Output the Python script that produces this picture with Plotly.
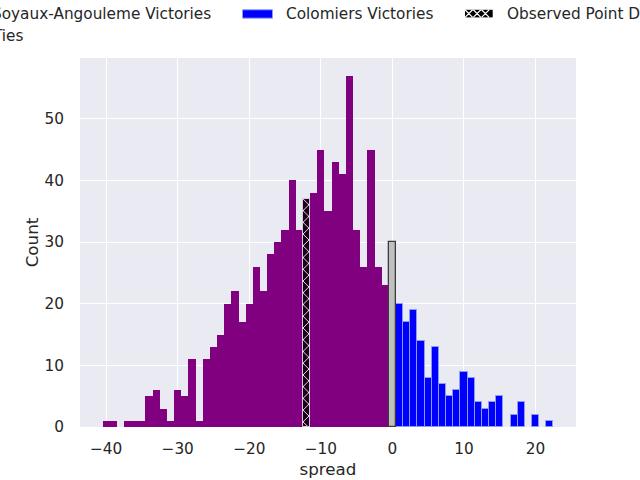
import plotly.graph_objects as go

# ---- data ----
soyaux_spread = [-40, -39, -37, -36, -35, -34, -33, -32, -31, -30, -29, -28, -27, -26,
                 -25, -24, -23, -22, -21, -20, -19, -18, -17, -16, -15, -14, -13,
                 -11, -10, -9, -8, -7, -6, -5, -4, -3, -2, -1]
soyaux_count = [1, 1, 1, 1, 1, 5, 6, 3, 1, 6, 5, 11, 1, 11,
                13, 15, 20, 22, 17, 20, 26, 22, 28, 30, 32, 40, 32,
                38, 45, 35, 43, 41, 57, 32, 26, 45, 26, 23]

colomiers_spread = [1, 2, 3, 4, 5, 6, 7, 8, 9, 10, 11, 12, 13, 14, 15, 17, 18, 20, 22]
colomiers_count = [20, 17, 19, 14, 8, 13, 7, 5, 6, 9, 8, 4, 3, 4, 5, 2, 4, 2, 1]

tie_spread = [0]
tie_count = [30]

observed_spread = [-12]
observed_count = [37]

x_ticks = [-40, -30, -20, -10, 0, 10, 20]
x_tick_labels = ["\u221240", "\u221230", "\u221220", "\u221210", "0", "10", "20"]
y_ticks = [0, 10, 20, 30, 40, 50]

legend_labels = ["Soyaux-Angouleme Victories", "Colomiers Victories",
                 "Observed Point Differential", "Ties"]

# ---- layout geometry (pixels) ----
WIDTH, HEIGHT = 640, 480
L, R, T, B = 80, 576, 57.6, 427.2
PW, PH = R - L, B - T

def px_x(p):
    return (p - L) / PW

def px_y(p):
    return (B - p) / PH

TEXT = "#262626"
FONT = "DejaVu Sans"

fig = go.Figure()

fig.add_trace(go.Bar(
    x=soyaux_spread, y=soyaux_count, width=1,
    marker=dict(color="#800080", line=dict(color="#800080", width=0)),
    name=legend_labels[0], showlegend=False))

fig.add_trace(go.Bar(
    x=colomiers_spread, y=colomiers_count, width=1,
    marker=dict(color="#0000ff", line=dict(color="#8c9cf2", width=1)),
    name=legend_labels[1], showlegend=False))

fig.add_trace(go.Bar(
    x=observed_spread, y=observed_count, width=1,
    marker=dict(color="#1c001c", line=dict(color="#d8c8e0", width=1),
                pattern=dict(shape="x", fgcolor="white", bgcolor="#1c001c",
                             size=8.3, solidity=0.2, fillmode="replace")),
    name=legend_labels[2], showlegend=False))

fig.add_trace(go.Bar(
    x=tie_spread, y=tie_count, width=1,
    marker=dict(color="#c0c0c0", line=dict(color="#3c3c3c", width=1.3)),
    name=legend_labels[3], showlegend=False))

# ---- manual legend (placed above the axes, partly off the page as in the reference) ----
shapes = []
annotations = []

def patch(x0, x1, y0, y1, fill, line_color, line_width=1):
    shapes.append(dict(type="rect", xref="paper", yref="paper",
                       x0=px_x(x0), x1=px_x(x1), y0=px_y(y1), y1=px_y(y0),
                       fillcolor=fill, line=dict(color=line_color, width=line_width),
                       layer="above"))

def label(text, xpx, ypx):
    annotations.append(dict(text=text, xref="paper", yref="paper",
                            x=px_x(xpx), y=px_y(ypx), xanchor="left", yanchor="middle",
                            showarrow=False, font=dict(family=FONT, size=15.3, color=TEXT)))

row1, row2 = 13.5, 36.0
# column 1 (handles are off the page)
patch(-50.7, -20.7, row1 - 4.2, row1 + 4.2, "#800080", "#800080", 0)
label(legend_labels[0], -10.5, row1)
patch(-50.7, -20.7, row2 - 4.2, row2 + 4.2, "#c0c0c0", "#3c3c3c")
label(legend_labels[3], -10.5, row2)
# column 2
patch(242.5, 272.5, 9.3, 17.7, "#0000ff", "#8c9cf2")
label(legend_labels[1], 283.5, row1)
# column 3 (hatched)
hx0, hx1, hy0, hy1 = 465.0, 492.7, 9.3, 16.9
patch(hx0, hx1, hy0, hy1, "#000000", "#000000", 0)
path = ""
step = 8.3
cx = hx0 + 3.8
while cx < hx1:
    a0, a1 = max(hx0, cx - 3.8), min(hx1, cx + 3.8)
    path += f"M{px_x(a0)},{px_y(hy0 + (a0 - (cx - 3.8)))} L{px_x(a1)},{px_y(hy0 + (a1 - (cx - 3.8)))} "
    path += f"M{px_x(a0)},{px_y(hy1 - (a0 - (cx - 3.8)))} L{px_x(a1)},{px_y(hy1 - (a1 - (cx - 3.8)))} "
    cx += step
shapes.append(dict(type="path", xref="paper", yref="paper", path=path,
                   line=dict(color="white", width=1.2), layer="above"))
label(legend_labels[2], 504.5, row1)

fig.update_layout(
    width=WIDTH, height=HEIGHT,
    margin=dict(l=L, r=WIDTH - R, t=T, b=HEIGHT - B, pad=0, autoexpand=False),
    paper_bgcolor="white", plot_bgcolor="#eaeaf2",
    barmode="overlay", bargap=0,
    font=dict(family=FONT, size=15.3, color=TEXT),
    shapes=shapes, annotations=annotations,
    showlegend=False,
)

fig.update_xaxes(
    range=[-43.65, 25.65], tickvals=x_ticks, ticktext=x_tick_labels,
    showgrid=True, gridcolor="white", gridwidth=1.4, zeroline=False,
    showline=False, ticks="outside", ticklen=7.5, tickcolor="rgba(0,0,0,0)",
    tickfont=dict(family=FONT, size=15.3, color=TEXT),
    title=dict(text="spread", font=dict(family=FONT, size=16.7, color=TEXT), standoff=6),
    automargin=False,
)
fig.update_yaxes(
    range=[0, 59.85], tickvals=y_ticks,
    showgrid=True, gridcolor="white", gridwidth=1.4, zeroline=False,
    showline=False, ticks="outside", ticklen=12, tickcolor="rgba(0,0,0,0)",
    tickfont=dict(family=FONT, size=15.3, color=TEXT),
    title=dict(text="Count", font=dict(family=FONT, size=16.7, color=TEXT), standoff=1),
    automargin=False,
)

fig.write_html("out.html",
               config={"displayModeBar": False},
               post_script="document.body.style.margin='0px';document.body.style.padding='0px';")
